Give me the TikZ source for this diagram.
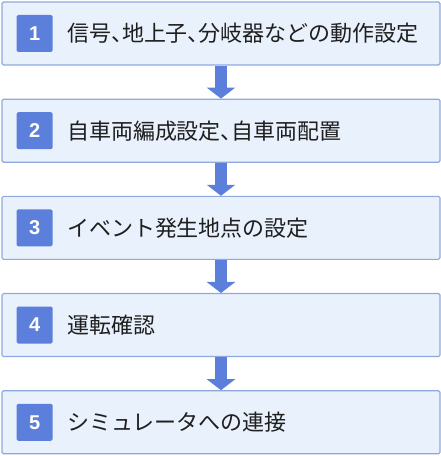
\documentclass[tikz,border=0pt]{standalone}
\usepackage{fontspec}
\setmainfont{Liberation Sans}
\newfontfamily\jpfont{Noto Sans CJK JP}[RawFeature=+halt]
\usepackage{xcolor}
\usetikzlibrary{positioning,arrows.meta}
\definecolor{stepfill}{HTML}{E9F1FC}
\definecolor{stepline}{HTML}{8EA9DE}
\definecolor{stepblue}{HTML}{5B7FDB}

\begin{document}
\begin{tikzpicture}[
    x=1pt,y=1pt,
    node distance=33pt,
    stepbox/.style={draw=stepline,line width=1.2pt,fill=stepfill,rounded corners=1.5pt,minimum width=438pt,minimum height=63pt},
    numbox/.style={fill=stepblue,rounded corners=1.5pt,minimum width=36pt,minimum height=37pt,inner sep=0pt,text=white,font=\bfseries\fontsize{20}{20}\selectfont},
    txt/.style={inner sep=0pt,font=\jpfont\fontsize{22}{26}\selectfont,text=black!88},
    arr/.style={-{Triangle[width=28pt,length=11pt]},line width=12pt,stepblue}
  ]
    \useasboundingbox (0,0) rectangle (441,456);
    \node[stepbox] (s1) at (221,422.5) {};
    \node[stepbox,below=of s1] (s2) {};
    \node[stepbox,below=of s2] (s3) {};
    \node[stepbox,below=of s3] (s4) {};
    \node[stepbox,below=of s4] (s5) {};
    \node[numbox,right=15pt of s1.west] (n1) {1};
    \node[numbox,right=15pt of s2.west] (n2) {2};
    \node[numbox,right=15pt of s3.west] (n3) {3};
    \node[numbox,right=15pt of s4.west] (n4) {4};
    \node[numbox,right=15pt of s5.west] (n5) {5};
    \node[txt,right=14pt of n1] (t1) {信号、地上子、分岐器などの動作設定};
    \node[txt,right=14pt of n2] (t2) {自車両編成設定、自車両配置};
    \node[txt,right=14pt of n3] (t3) {イベント発生地点の設定};
    \node[txt,right=14pt of n4] (t4) {運転確認};
    \node[txt,right=14pt of n5] (t5) {シミュレータへの連接};
    \draw[arr] (s1) -- (s2);
    \draw[arr] (s2) -- (s3);
    \draw[arr] (s3) -- (s4);
    \draw[arr] (s4) -- (s5);
  \end{tikzpicture}
\end{document}
